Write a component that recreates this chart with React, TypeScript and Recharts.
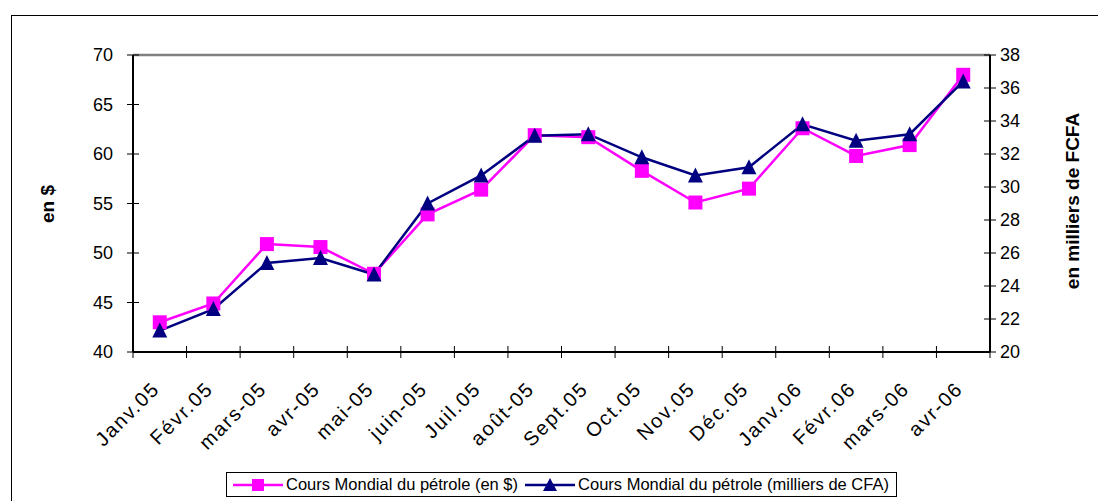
import { LineChart, Line, XAxis, YAxis, ReferenceLine } from 'recharts';

const months = [
  'Janv.05', 'Févr.05', 'mars-05', 'avr-05', 'mai-05', 'juin-05', 'Juil.05', 'août-05',
  'Sept.05', 'Oct.05', 'Nov.05', 'Déc.05', 'Janv.06', 'Févr.06', 'mars-06', 'avr-06',
];
const usdPrices = [43.0, 44.9, 50.9, 50.6, 47.9, 53.9, 56.4, 61.9, 61.7, 58.3, 55.1, 56.5, 62.6, 59.8, 60.9, 68.0];
const cfaPrices = [21.3, 22.6, 25.4, 25.7, 24.7, 29.0, 30.7, 33.1, 33.2, 31.8, 30.7, 31.2, 33.8, 32.8, 33.2, 36.4];
const usdTicks = [40, 45, 50, 55, 60, 65, 70];
const cfaTicks = [20, 22, 24, 26, 28, 30, 32, 34, 36, 38];
const seriesNames = ['Cours Mondial du pétrole (en $)', 'Cours Mondial du pétrole (milliers de CFA)'];

const data = months.map((m, i) => ({ month: m, usd: usdPrices[i], cfa: cfaPrices[i] }));

const FONT = '"Liberation Sans", Arial, sans-serif';
const PINK = '#FF00FF';
const NAVY = '#000080';
const BAND = 857 / months.length;

const XTick = (props: any) => {
  const { x, y, payload, index } = props;
  return (
    <g>
      <line x1={x - BAND / 2} x2={x - BAND / 2} y1={y - 6} y2={y + 6} stroke="#000" strokeWidth={1} />
      {index === months.length - 1 && (
        <line x1={x + BAND / 2} x2={x + BAND / 2} y1={y - 6} y2={y + 6} stroke="#000" strokeWidth={1} />
      )}
      <text
        x={x + 1}
        y={y + 38}
        textAnchor="end"
        transform={`rotate(-45, ${x + 1}, ${y + 38})`}
        fontFamily={FONT}
        fontSize={20}
        letterSpacing={1.8}
        fill="#000"
      >
        {payload.value}
      </text>
    </g>
  );
};

const LeftTick = (props: any) => {
  const { x, y, payload } = props;
  return (
    <g>
      <line x1={x - 6} x2={x + 6} y1={y} y2={y} stroke="#000" strokeWidth={1} />
      <text x={x - 20} y={y} dy="0.355em" textAnchor="end" fontFamily={FONT} fontSize={18} fill="#000">
        {payload.value}
      </text>
    </g>
  );
};

const RightTick = (props: any) => {
  const { x, y, payload } = props;
  return (
    <g>
      <line x1={x - 6} x2={x + 6} y1={y} y2={y} stroke="#000" strokeWidth={1} />
      <text x={x + 10} y={y} dy="0.355em" textAnchor="start" fontFamily={FONT} fontSize={18} fill="#000">
        {payload.value}
      </text>
    </g>
  );
};

const Square = (props: any) => {
  const { cx, cy, index } = props;
  return <rect key={`sq-${index}`} x={cx - 7} y={cy - 7} width={14} height={14} fill={PINK} />;
};

const Triangle = (props: any) => {
  const { cx, cy, index } = props;
  return (
    <polygon
      key={`tr-${index}`}
      points={`${cx},${cy - 8} ${cx - 7.5},${cy + 7} ${cx + 7.5},${cy + 7}`}
      fill={NAVY}
    />
  );
};

const AxisTitle = ({ x, y, text }: { x: number; y: number; text: string }) => (
  <text
    x={x}
    y={y}
    textAnchor="middle"
    dominantBaseline="central"
    transform={`rotate(-90, ${x}, ${y})`}
    fontFamily={FONT}
    fontSize={19}
    fontWeight="bold"
    fill="#000"
  >
    {text}
  </text>
);

export default function App() {
  return (
    <div style={{ position: 'absolute', left: 0, top: 0, width: 1098, height: 501, background: '#fff', overflow: 'hidden' }}>
      <div
        style={{
          position: 'absolute',
          left: 11,
          top: 15,
          width: 1100,
          height: 500,
          borderTop: '1px solid #000',
          borderLeft: '1px solid #000',
        }}
      />
      <div style={{ position: 'absolute', left: 0, top: 0 }}>
        <LineChart width={1098} height={501} data={data} margin={{ top: 55, right: 0, bottom: 0, left: 0 }}>
          <XAxis
            dataKey="month"
            height={149}
            interval={0}
            padding={{ left: BAND / 2, right: BAND / 2 }}
            tickLine={false}
            tickSize={0}
            tickMargin={0}
            tick={<XTick />}
            axisLine={{ stroke: '#000', strokeWidth: 2 }}
          />
          <YAxis
            yAxisId="left"
            orientation="left"
            width={133}
            domain={[40, 70]}
            ticks={usdTicks}
            interval={0}
            tickLine={false}
            tickSize={0}
            tickMargin={0}
            tick={<LeftTick />}
            axisLine={{ stroke: '#000', strokeWidth: 2 }}
            label={{ content: () => <AxisTitle x={47} y={204} text="en $" /> }}
          />
          <YAxis
            yAxisId="right"
            orientation="right"
            width={108}
            domain={[20, 38]}
            ticks={cfaTicks}
            interval={0}
            tickLine={false}
            tickSize={0}
            tickMargin={0}
            tick={<RightTick />}
            axisLine={{ stroke: '#000', strokeWidth: 2 }}
            label={{ content: () => <AxisTitle x={1072} y={201} text="en milliers de FCFA" /> }}
          />
          <ReferenceLine yAxisId="left" y={70} stroke="#808080" strokeWidth={2.5} />
          <Line
            yAxisId="left"
            type="linear"
            dataKey="usd"
            name={seriesNames[0]}
            stroke={PINK}
            strokeWidth={2.5}
            dot={<Square />}
            activeDot={false}
            isAnimationActive={false}
          />
          <Line
            yAxisId="right"
            type="linear"
            dataKey="cfa"
            name={seriesNames[1]}
            stroke={NAVY}
            strokeWidth={2.5}
            dot={<Triangle />}
            activeDot={false}
            isAnimationActive={false}
          />
        </LineChart>
      </div>
      <div
        style={{
          position: 'absolute',
          left: 226,
          top: 472,
          width: 671,
          height: 25,
          boxSizing: 'border-box',
          border: '1px solid #000',
          display: 'flex',
          alignItems: 'center',
          fontFamily: FONT,
          fontSize: 16.5,
          whiteSpace: 'nowrap',
        }}
      >
        <svg width={50} height={20} style={{ marginLeft: 6 }}>
          <line x1={0} x2={50} y1={10} y2={10} stroke={PINK} strokeWidth={2.5} />
          <rect x={19} y={4} width={12} height={12} fill={PINK} />
        </svg>
        <span style={{ marginLeft: 3 }}>{seriesNames[0]}</span>
        <svg width={50} height={20} style={{ marginLeft: 7 }}>
          <line x1={0} x2={50} y1={10} y2={10} stroke={NAVY} strokeWidth={2.5} />
          <polygon points="25,3 18,16 32,16" fill={NAVY} />
        </svg>
        <span style={{ marginLeft: 3 }}>{seriesNames[1]}</span>
      </div>
    </div>
  );
}
